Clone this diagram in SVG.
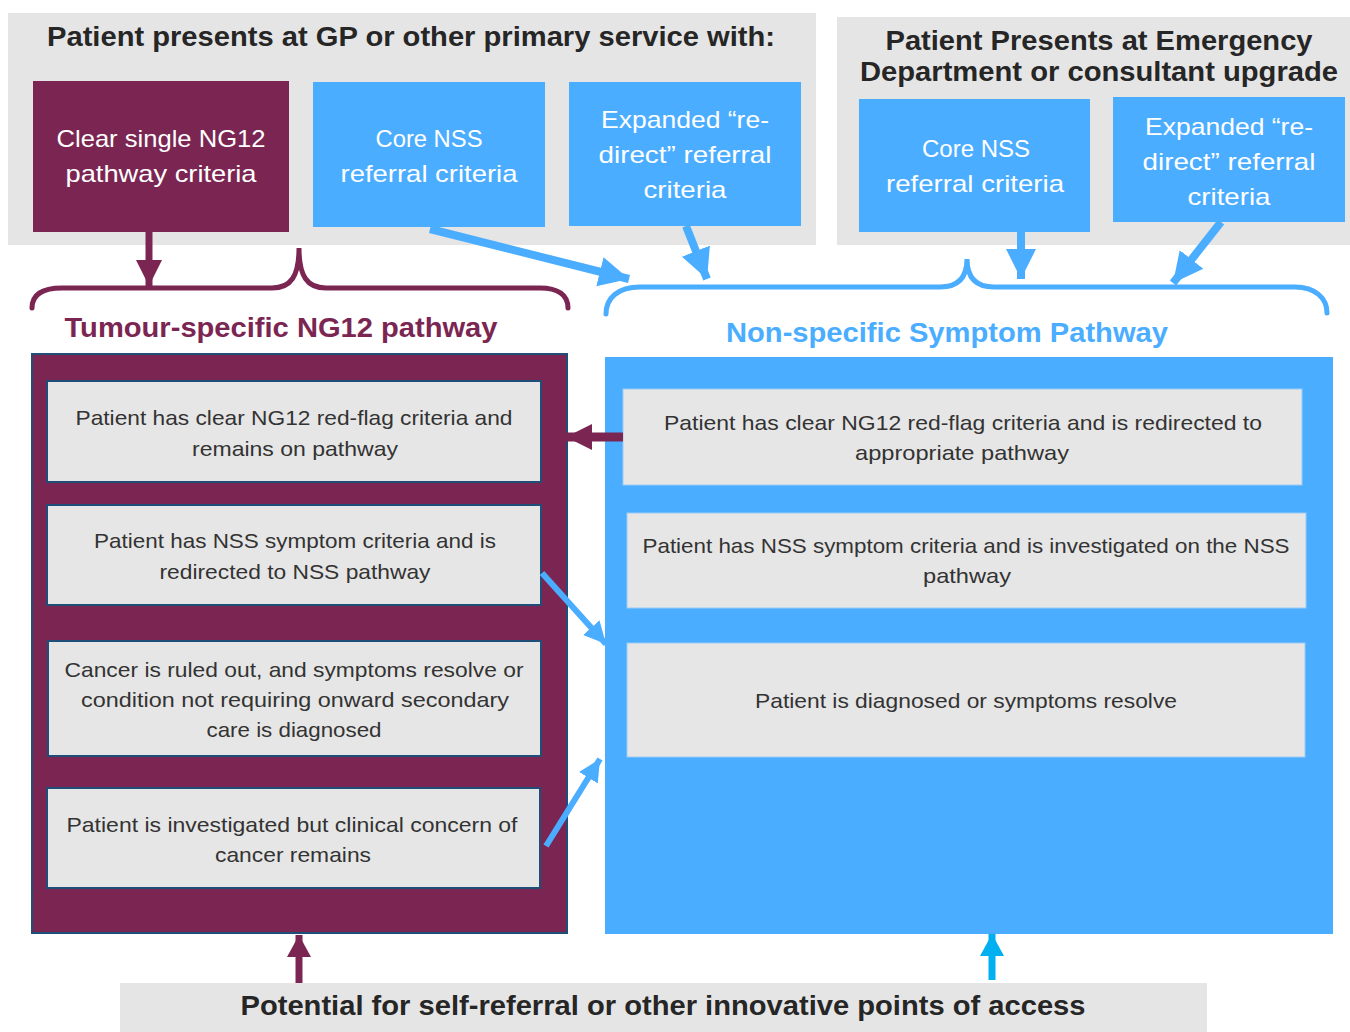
<svg xmlns="http://www.w3.org/2000/svg" width="1350" height="1032" viewBox="0 0 1350 1032">
<style>
  .panel { fill: #E5E5E5; }
  .maroon { fill: #7B2652; }
  .blue { fill: #4BADFF; }
  .title { font-family: "Liberation Sans", Arial, sans-serif; font-weight: bold; fill: #262626; text-anchor: middle; }
  .wt { font-family: "Liberation Sans", Arial, sans-serif; font-size: 24px; fill: #FFFFFF; text-anchor: middle; }
  .bt { font-family: "Liberation Sans", Arial, sans-serif; font-size: 21px; fill: #333333; text-anchor: middle; }
  .lbox { fill: #E6E6E6; stroke: #1F4E79; stroke-width: 2; }
  .rbox { fill: #E6E6E6; stroke: #9CCBF5; stroke-width: 1; }
  .brace { fill: none; stroke-width: 5; stroke-linecap: round; }
  .heading { font-family: "Liberation Sans", Arial, sans-serif; font-weight: bold; font-size: 28px; text-anchor: middle; }
</style>
<defs>
  <marker id="hMaroonL" markerUnits="userSpaceOnUse" markerWidth="28" markerHeight="28" refX="26" refY="14" orient="auto">
    <path d="M0,1 L26,14 L0,27 z" fill="#7B2652"/>
  </marker>
  <marker id="hMaroonS" markerUnits="userSpaceOnUse" markerWidth="24" markerHeight="26" refX="22" refY="13" orient="auto">
    <path d="M0,1 L22,13 L0,25 z" fill="#7B2652"/>
  </marker>
  <marker id="hBlueL" markerUnits="userSpaceOnUse" markerWidth="32" markerHeight="32" refX="30" refY="16" orient="auto">
    <path d="M0,1 L30,16 L0,31 z" fill="#4BADFF"/>
  </marker>
  <marker id="hBlueS" markerUnits="userSpaceOnUse" markerWidth="24" markerHeight="24" refX="22" refY="12" orient="auto">
    <path d="M0,1 L22,12 L0,23 z" fill="#4BADFF"/>
  </marker>
  <marker id="hCyanS" markerUnits="userSpaceOnUse" markerWidth="24" markerHeight="26" refX="22" refY="13" orient="auto">
    <path d="M0,1 L22,13 L0,25 z" fill="#00B0F0"/>
  </marker>
</defs>

<!-- Top left panel -->
<g id="gp-panel">
  <rect class="panel" x="8" y="13" width="808" height="232"/>
  <text class="title" x="411" y="46" font-size="27" textLength="728" lengthAdjust="spacingAndGlyphs">Patient presents at GP or other primary service with:</text>
</g>
<g id="gp-ng12">
  <rect class="maroon" x="33" y="81" width="256" height="151"/>
  <text class="wt" x="161" y="147" textLength="209" lengthAdjust="spacingAndGlyphs">Clear single NG12</text>
  <text class="wt" x="161" y="182" textLength="191" lengthAdjust="spacingAndGlyphs">pathway criteria</text>
</g>
<g id="gp-core">
  <rect class="blue" x="313" y="82" width="232" height="145"/>
  <text class="wt" x="429" y="147" textLength="107" lengthAdjust="spacingAndGlyphs">Core NSS</text>
  <text class="wt" x="429" y="182" textLength="177" lengthAdjust="spacingAndGlyphs">referral criteria</text>
</g>
<g id="gp-expanded">
  <rect class="blue" x="569" y="82" width="232" height="144"/>
  <text class="wt" x="685" y="128" textLength="168" lengthAdjust="spacingAndGlyphs">Expanded “re-</text>
  <text class="wt" x="685" y="163" textLength="173" lengthAdjust="spacingAndGlyphs">direct” referral</text>
  <text class="wt" x="685" y="198" textLength="83" lengthAdjust="spacingAndGlyphs">criteria</text>
</g>

<!-- Top right panel -->
<g id="ed-panel">
  <rect class="panel" x="837" y="17" width="513" height="228"/>
  <text class="title" x="1099" y="50" font-size="28" textLength="427" lengthAdjust="spacingAndGlyphs">Patient Presents at Emergency</text>
  <text class="title" x="1099" y="81" font-size="28" textLength="478" lengthAdjust="spacingAndGlyphs">Department or consultant upgrade</text>
</g>
<g id="ed-core">
  <rect class="blue" x="859" y="99" width="231" height="133"/>
  <text class="wt" x="976" y="157" textLength="108" lengthAdjust="spacingAndGlyphs">Core NSS</text>
  <text class="wt" x="975" y="192" textLength="178" lengthAdjust="spacingAndGlyphs">referral criteria</text>
</g>
<g id="ed-expanded">
  <rect class="blue" x="1113" y="97" width="232" height="125"/>
  <text class="wt" x="1229" y="135" textLength="168" lengthAdjust="spacingAndGlyphs">Expanded “re-</text>
  <text class="wt" x="1229" y="170" textLength="173" lengthAdjust="spacingAndGlyphs">direct” referral</text>
  <text class="wt" x="1229" y="205" textLength="83" lengthAdjust="spacingAndGlyphs">criteria</text>
</g>

<!-- Braces and headings -->
<g id="ng12-heading">
  <path class="brace" stroke="#7B2652" d="M32,308 C32,295 42,288 62,288 L272,288 C291,288 299,276 299,248 C299,276 307,288 326,288 L540,288 C558,288 568,295 568,308"/>
  <text class="heading" x="281" y="337" fill="#7B2652" textLength="433" lengthAdjust="spacingAndGlyphs">Tumour-specific NG12 pathway</text>
</g>
<g id="nss-heading">
  <path class="brace" stroke="#4BADFF" d="M606,314 C606,298 618,287 640,287 L940,287 C958,287 967,278 967,259 C967,278 976,287 994,287 L1295,287 C1315,287 1327,298 1327,313"/>
  <text class="heading" x="947" y="342" fill="#4BADFF" textLength="442" lengthAdjust="spacingAndGlyphs">Non-specific Symptom Pathway</text>
</g>

<!-- Left container -->
<g id="ng12-pathway">
  <rect x="32" y="354" width="535" height="579" fill="#7B2652" stroke="#1F4E79" stroke-width="2"/>
</g>
<g id="ng12-remains">
  <rect class="lbox" x="47" y="381" width="494" height="101"/>
  <text class="bt" x="294" y="425" textLength="437" lengthAdjust="spacingAndGlyphs">Patient has clear NG12 red-flag criteria and</text>
  <text class="bt" x="295" y="456" textLength="206" lengthAdjust="spacingAndGlyphs">remains on pathway</text>
</g>
<g id="ng12-redirected">
  <rect class="lbox" x="47" y="505" width="494" height="100"/>
  <text class="bt" x="295" y="548" textLength="402" lengthAdjust="spacingAndGlyphs">Patient has NSS symptom criteria and is</text>
  <text class="bt" x="295" y="579" textLength="271" lengthAdjust="spacingAndGlyphs">redirected to NSS pathway</text>
</g>
<g id="ng12-ruledout">
  <rect class="lbox" x="48" y="641" width="493" height="115"/>
  <text class="bt" x="294" y="677" textLength="459" lengthAdjust="spacingAndGlyphs">Cancer is ruled out, and symptoms resolve or</text>
  <text class="bt" x="295" y="707" textLength="428" lengthAdjust="spacingAndGlyphs">condition not requiring onward secondary</text>
  <text class="bt" x="294" y="737" textLength="175" lengthAdjust="spacingAndGlyphs">care is diagnosed</text>
</g>
<g id="ng12-concern">
  <rect class="lbox" x="47" y="788" width="493" height="100"/>
  <text class="bt" x="292" y="832" textLength="451" lengthAdjust="spacingAndGlyphs">Patient is investigated but clinical concern of</text>
  <text class="bt" x="293" y="862" textLength="156" lengthAdjust="spacingAndGlyphs">cancer remains</text>
</g>

<!-- Right container -->
<g id="nss-pathway">
  <rect x="605" y="357" width="728" height="577" fill="#4BADFF"/>
</g>
<g id="nss-redirected">
  <rect class="rbox" x="623" y="389" width="679" height="96"/>
  <text class="bt" x="963" y="430" textLength="598" lengthAdjust="spacingAndGlyphs">Patient has clear NG12 red-flag criteria and is redirected to</text>
  <text class="bt" x="962" y="460" textLength="214" lengthAdjust="spacingAndGlyphs">appropriate pathway</text>
</g>
<g id="nss-investigated">
  <rect class="rbox" x="627" y="513" width="679" height="95"/>
  <text class="bt" x="966" y="553" textLength="647" lengthAdjust="spacingAndGlyphs">Patient has NSS symptom criteria and is investigated on the NSS</text>
  <text class="bt" x="967" y="583" textLength="88" lengthAdjust="spacingAndGlyphs">pathway</text>
</g>
<g id="nss-diagnosed">
  <rect class="rbox" x="627" y="643" width="678" height="114"/>
  <text class="bt" x="966" y="708" textLength="422" lengthAdjust="spacingAndGlyphs">Patient is diagnosed or symptoms resolve</text>
</g>

<!-- Bottom band -->
<g id="self-referral">
  <rect class="panel" x="120" y="983" width="1087" height="49"/>
  <text class="title" x="663" y="1015" font-size="28" textLength="845" lengthAdjust="spacingAndGlyphs">Potential for self-referral or other innovative points of access</text>
</g>

<!-- Connectors -->
<g id="connectors" fill="none">
  <line x1="149" y1="232" x2="149" y2="286" stroke="#7B2652" stroke-width="7" marker-end="url(#hMaroonL)"/>
  <line x1="430" y1="229" x2="629" y2="279" stroke="#4BADFF" stroke-width="8" marker-end="url(#hBlueL)"/>
  <line x1="686" y1="226" x2="707" y2="279" stroke="#4BADFF" stroke-width="8" marker-end="url(#hBlueL)"/>
  <line x1="1021" y1="232" x2="1021" y2="279" stroke="#4BADFF" stroke-width="8" marker-end="url(#hBlueL)"/>
  <line x1="1221" y1="222" x2="1173" y2="283" stroke="#4BADFF" stroke-width="8" marker-end="url(#hBlueL)"/>
  <line x1="623" y1="437" x2="566" y2="437" stroke="#7B2652" stroke-width="9" marker-end="url(#hMaroonL)"/>
  <line x1="542" y1="573" x2="606" y2="644" stroke="#4BADFF" stroke-width="6" marker-end="url(#hBlueS)"/>
  <line x1="546" y1="846" x2="600" y2="759" stroke="#4BADFF" stroke-width="6" marker-end="url(#hBlueS)"/>
  <line x1="299" y1="983" x2="299" y2="935" stroke="#7B2652" stroke-width="7" marker-end="url(#hMaroonS)"/>
  <line x1="992" y1="980" x2="992" y2="934" stroke="#00B0F0" stroke-width="7" marker-end="url(#hCyanS)"/>
</g>
</svg>
